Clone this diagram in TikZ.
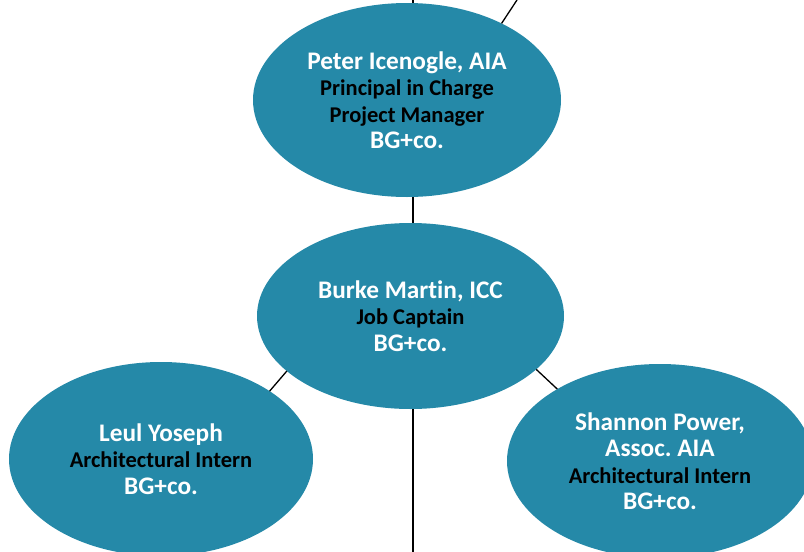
\documentclass[tikz,border=0pt]{standalone}
\usepackage{fontspec}
\setmainfont{Carlito}[Ligatures=NoCommon]
\usepackage{tikz}
\usetikzlibrary{shapes.geometric}
\definecolor{bgteal}{RGB}{37,137,168}
\tikzstyle{Link} = [
    black,
    line width = 1.3pt
]
\newcommand{\who}[1]{\textcolor{white}{\fontsize{25.3}{26.5}\selectfont #1}}

\begin{document}
\begin{tikzpicture}[
x = 1pt, y = -1pt,
person/.style={
    ellipse,
    fill = bgteal,
    inner sep = 0pt,
    outer sep = 0pt,
    align = center,
    font = \bfseries\fontsize{22.5}{26.5}\selectfont
    }
]
\clip (0,0) rectangle (804,552);

\node [person, minimum width = 308, minimum height = 194] (peter) at (407,100) {
    \who{Peter Icenogle, AIA}\\
    Principal in Charge\\
    Project Manager\\
    \who{BG+co.}
};
\node [person, minimum width = 307, minimum height = 186] (burke) at (410.5,316) {
    \who{Burke Martin, ICC}\\
    Job Captain\\
    \who{BG+co.}
};
\node [person, minimum width = 304, minimum height = 194] (leul) at (161,459) {
    \who{Leul Yoseph}\\
    Architectural Intern\\
    \who{BG+co.}
};
\node [person, minimum width = 306, minimum height = 194] (shannon) at (660,461) {
    \who{Shannon Power,}\\
    \who{Assoc.\ AIA}\\
    Architectural Intern\\
    \who{BG+co.}
};

% ends of the lines that leave the page
\coordinate (up) at (413,0);
\coordinate (upright) at (517,0);
\coordinate (down) at (413,552);

\draw[Link] (up) -- (up |- peter.north);
\draw[Link] (upright) -- (peter.39);
\draw[Link] (peter.south -| up) -- (burke.north -| up);
\draw[Link] (burke.204) -- (leul.32);
\draw[Link] (burke.337) -- (shannon.145);
\draw[Link] (burke.south -| down) -- (down);

\end{tikzpicture}
\end{document}
